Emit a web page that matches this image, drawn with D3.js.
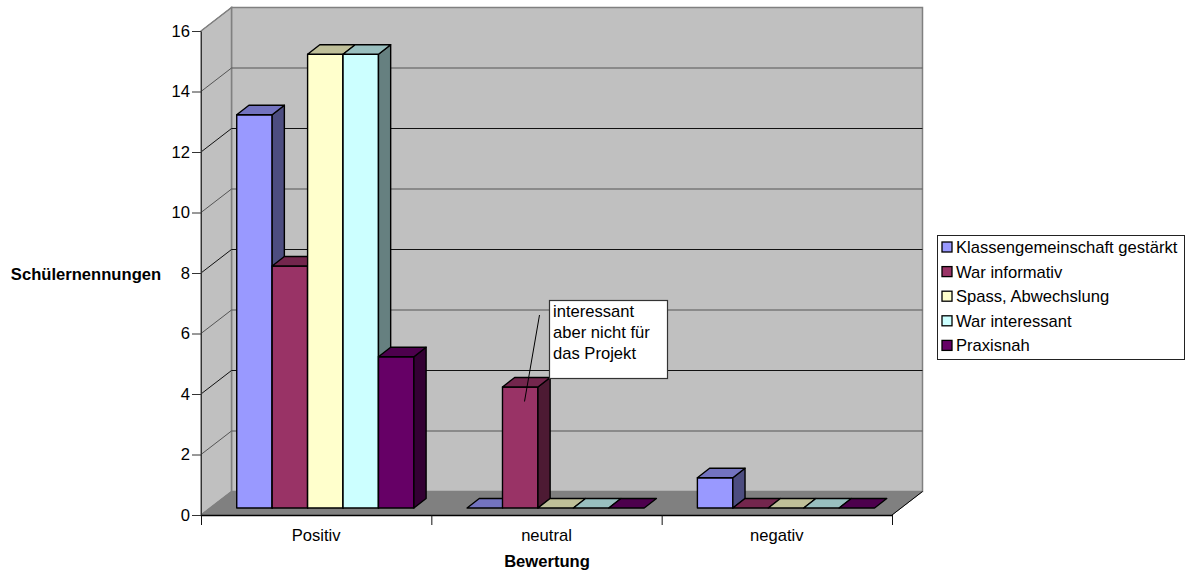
<!DOCTYPE html>
<html>
<head>
<meta charset="utf-8">
<script src="https://cdn.jsdelivr.net/npm/d3@7/dist/d3.min.js"></script>
<style>
html,body{margin:0;padding:0;background:#fff}
svg{display:block}
text{font-family:"Liberation Sans",Arial,sans-serif;fill:#000}
</style>
</head>
<body>
<svg id="chart" width="1193" height="577"></svg>
<script>
const categories = ["Positiv", "neutral", "negativ"];
const seriesNames = ["Klassengemeinschaft gestärkt", "War informativ", "Spass, Abwechslung", "War interessant", "Praxisnah"];
const klassengemeinschaft = [13, 0, 1];
const warInformativ = [8, 4, 0];
const spass = [15, 0, 0];
const warInteressant = [15, 0, 0];
const praxisnah = [5, 0, 0];
const seriesColors = ["#9999ff", "#993366", "#ffffcc", "#ccffff", "#660066"];
const yTicks = [0, 2, 4, 6, 8, 10, 12, 14, 16];
const noteLines = ["interessant", "aber nicht für", "das Projekt"];

const seriesValues = [klassengemeinschaft, warInformativ, spass, warInteressant, praxisnah];
const svg = d3.select("#chart");
const fontSize = 16.6;

// Front edge of the plot and the oblique offset of the back wall
const x0 = 201, x1 = 892, yBase = 515, yTop = 31;
const depthX = 30.5, depthY = -23.5;

const y = d3.scaleLinear().domain([0, 16]).range([yBase, yTop]);
const xCat = d3.scaleBand().domain(categories).range([x0, x1]);
const xSeries = d3.scaleBand().domain(seriesNames).range([0, xCat.bandwidth()])
  .paddingInner(0).paddingOuter(0.75);
// Depth position along the floor: 0 front, 1 back
const skew = d => [d * depthX, d * depthY];
const barFront = 0.3, barBack = 0.7;

const poly = pts => pts.map(p => p.join(",")).join(" ");
const shade = (c, k) => { const r = d3.rgb(c); return d3.rgb(r.r * k, r.g * k, r.b * k).formatHex(); };

// Walls and floor
const walls = svg.append("g");
walls.append("polygon").attr("fill", "#c0c0c0").attr("stroke", "#808080").attr("stroke-width", 1.5)
  .attr("points", poly([[x0 + depthX, yTop + depthY], [x1 + depthX, yTop + depthY], [x1 + depthX, yBase + depthY], [x0 + depthX, yBase + depthY]]));
walls.append("polygon").attr("fill", "#c0c0c0").attr("stroke", "#808080").attr("stroke-width", 1.5)
  .attr("points", poly([[x0, yTop], [x0 + depthX, yTop + depthY], [x0 + depthX, yBase + depthY], [x0, yBase]]));
walls.append("polygon").attr("fill", "#808080").attr("stroke", "#808080")
  .attr("points", poly([[x0, yBase], [x0 + depthX, yBase + depthY], [x1 + depthX, yBase + depthY], [x1, yBase]]));

// Gridlines on side and back walls
const grid = svg.append("g").attr("fill", "none");
yTicks.filter(t => t > 0 && t < 16).forEach((t, i) => {
  grid.append("polyline")
    .attr("stroke", i % 2 === 0 ? "#555" : "#111")
    .attr("stroke-width", 1)
    .attr("points", poly([[x0, y(t)], [x0 + depthX, y(t) + depthY], [x1 + depthX, y(t) + depthY]]));
});
grid.append("line").attr("stroke", "#808080")
  .attr("x1", x0).attr("y1", yTop).attr("x2", x0 + depthX).attr("y2", yTop + depthY);

// Bars share one depth band, so left-to-right drawing overlaps them correctly
const barsG = svg.append("g").attr("stroke", "#000").attr("stroke-width", 1.4).attr("stroke-linejoin", "round");
categories.forEach((cat, ci) => {
  seriesNames.forEach((name, si) => {
    const v = seriesValues[si][ci];
    const color = seriesColors[si];
    const [fx, fy] = skew(barFront);
    const [bx, by] = skew(barBack);
    const left = xCat(cat) + xSeries(name) + fx;
    const w = xSeries.bandwidth();
    const right = left + w;
    const bottom = y(0) + fy;
    const top = y(v) + fy;
    const dx = bx - fx, dy = by - fy;
    const g = barsG.append("g").attr("class", "bar");
    if (v > 0) {
      g.append("polygon").attr("fill", color)
        .attr("points", poly([[left, top], [right, top], [right, bottom], [left, bottom]]));
      g.append("polygon").attr("fill", shade(color, 0.5))
        .attr("points", poly([[right, top], [right + dx, top + dy], [right + dx, bottom + dy], [right, bottom]]));
    }
    g.append("polygon").attr("fill", shade(color, 0.75))
      .attr("points", poly([[left, top], [left + dx, top + dy], [right + dx, top + dy], [right, top]]));
  });
});

// Value axis
const yAxis = svg.append("g").attr("transform", `translate(${x0},0)`)
  .call(d3.axisLeft(y).tickValues(yTicks).tickSize(9).tickPadding(2).tickSizeOuter(0));
yAxis.selectAll("text").attr("font-size", fontSize).style("font-family", '"Liberation Sans"');
yAxis.selectAll("line,path").attr("stroke", "#333");

// Category axis: ticks sit on the category boundaries, labels in the band centres
const xTickScale = d3.scaleLinear().domain([0, categories.length]).range([x0, x1]);
const xTicks = svg.append("g").attr("transform", `translate(0,${yBase})`)
  .call(d3.axisBottom(xTickScale).tickValues(d3.range(categories.length + 1)).tickFormat("").tickSize(10).tickSizeOuter(0));
xTicks.selectAll("line").attr("stroke", "#111");
xTicks.select("path").attr("stroke", "#000").attr("stroke-width", 1.4);
const xLabels = svg.append("g").attr("transform", `translate(0,${yBase})`)
  .call(d3.axisBottom(xCat).tickSize(0).tickPadding(14));
xLabels.select("path").remove();
xLabels.selectAll("text").attr("font-size", fontSize).style("font-family", '"Liberation Sans"');

// Corner from the front right of the floor to the back wall
svg.append("line").attr("stroke", "#000").attr("stroke-width", 1)
  .attr("x1", x1).attr("y1", yBase).attr("x2", x1 + depthX).attr("y2", yBase + depthY);

// Axis titles
svg.append("text").attr("x", 86).attr("y", 280).attr("text-anchor", "middle")
  .attr("font-size", fontSize).attr("font-weight", "bold").text("Schülernennungen");
svg.append("text").attr("x", 547).attr("y", 567).attr("text-anchor", "middle")
  .attr("font-size", fontSize).attr("font-weight", "bold").text("Bewertung");

// Callout on the neutral bar
const note = svg.append("g");
note.append("line").attr("stroke", "#000").attr("x1", 539.5).attr("y1", 315).attr("x2", 524.5).attr("y2", 401.5);
note.append("rect").attr("x", 549.5).attr("y", 300.5).attr("width", 118).attr("height", 78)
  .attr("fill", "#fff").attr("stroke", "#333").attr("stroke-width", 1.2);
note.selectAll("text").data(noteLines).join("text")
  .attr("x", 553).attr("y", (d, i) => 317 + i * 21).attr("font-size", fontSize).text(d => d);

// Legend
const legend = svg.append("g");
legend.append("rect").attr("x", 937.5).attr("y", 235.5).attr("width", 247).attr("height", 124)
  .attr("fill", "#fff").attr("stroke", "#222");
const rows = legend.selectAll("g").data(seriesNames).join("g")
  .attr("transform", (d, i) => `translate(0,${247 + i * 24.6})`);
rows.append("rect").attr("x", 942).attr("y", -5).attr("width", 10).attr("height", 10)
  .attr("fill", (d, i) => seriesColors[i]).attr("stroke", "#000").attr("stroke-width", 1.3);
rows.append("text").attr("x", 956).attr("y", 6).attr("font-size", fontSize).text(d => d);
</script>
</body>
</html>
